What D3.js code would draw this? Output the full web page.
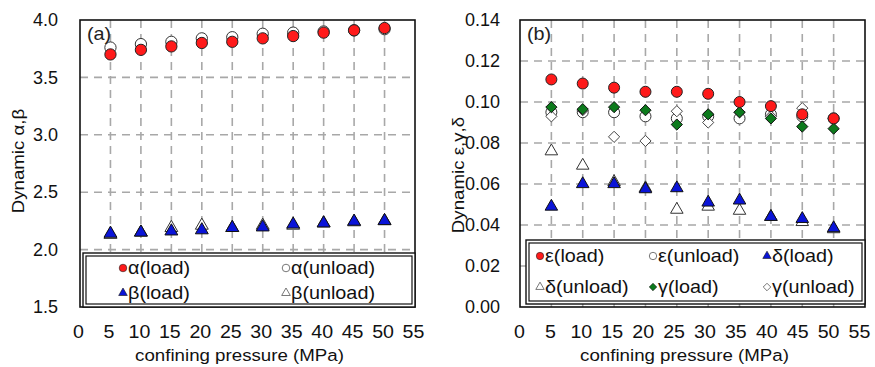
<!DOCTYPE html>
<html>
<head>
<meta charset="utf-8">
<script src="https://cdn.jsdelivr.net/npm/d3@7"></script>
<style>
  body { margin: 0; background: #fff; }
  svg { display: block; font-family: "Liberation Sans", Arial, sans-serif; }
</style>
</head>
<body>
<svg id="chart" width="875" height="367"></svg>
<script>
// confining pressure (MPa)
const pressure = [5, 10, 15, 20, 25, 30, 35, 40, 45, 50];
const xTicks = [0, 5, 10, 15, 20, 25, 30, 35, 40, 45, 50, 55];

// panel (a)
const alphaLoad   = [3.70, 3.74, 3.77, 3.80, 3.81, 3.84, 3.86, 3.89, 3.91, 3.93];
const alphaUnload = [3.76, 3.79, 3.81, 3.84, 3.85, 3.88, 3.89, 3.90, 3.91, 3.92];
const betaLoad    = [2.14, 2.15, 2.16, 2.17, 2.19, 2.195, 2.22, 2.23, 2.245, 2.25];
const betaUnload  = [2.13, 2.15, 2.19, 2.21, 2.19, 2.21, 2.21, 2.23, 2.24, 2.25];
const yTicksA = [1.5, 2.0, 2.5, 3.0, 3.5, 4.0];

// panel (b)
const epsLoad     = [0.111, 0.109, 0.107, 0.105, 0.105, 0.104, 0.100, 0.098, 0.094, 0.092];
const epsUnload   = [0.095, 0.095, 0.095, 0.093, 0.092, 0.093, 0.092, 0.094, 0.093, 0.092];
const deltaLoad   = [0.049, 0.060, 0.060, 0.0575, 0.058, 0.051, 0.052, 0.044, 0.043, 0.0385];
const deltaUnload = [0.076, 0.069, 0.061, 0.058, 0.0475, 0.049, 0.047, 0.044, 0.0415, 0.038];
const gammaLoad   = [0.0975, 0.0965, 0.0975, 0.096, 0.089, 0.094, 0.095, 0.092, 0.088, 0.087];
const gammaUnload = [0.093, 0.096, 0.083, 0.081, 0.0955, 0.090, 0.095, 0.093, 0.097, 0.092];
const yTicksB = [0, 0.02, 0.04, 0.06, 0.08, 0.10, 0.12, 0.14];

const svg = d3.select("#chart");
const FONT = "Liberation Sans, Arial, sans-serif";
const SX = 1.1; // the source text is a bit wider than Liberation Sans

const colors = { red: "#ff1a1a", blue: "#0a14d8", green: "#0c7a1c" };

function symbolFor(kind) {
  if (kind === "circle") return d3.symbolCircle;
  if (kind === "triangle") return d3.symbolTriangle;
  return d3.symbolDiamond2;
}

function wideText(sel, x, y, size, str, anchor) {
  return sel.append("text")
    .attr("transform", "translate(" + x + "," + y + ") scale(" + SX + ",1)")
    .attr("text-anchor", anchor || "start")
    .attr("font-size", size).attr("fill", "#111")
    .text(str);
}

function drawPanel(opt) {
  const x = d3.scaleLinear().domain([0, 55]).range([opt.left, opt.right]);
  const xLab = d3.scaleLinear().domain([0, 55]).range(opt.labelRange);
  const y = d3.scaleLinear().domain(opt.yDomain).range([opt.bottom, opt.top]);
  const g = svg.append("g");

  // grid
  g.selectAll(".vgrid").data(xTicks.filter(d => d > 0 && d < 55)).enter()
    .append("line")
    .attr("x1", d => x(d)).attr("x2", d => x(d))
    .attr("y1", opt.top).attr("y2", opt.bottom)
    .attr("stroke", "#a8a8a8").attr("stroke-width", 1.6)
    .attr("stroke-dasharray", "8,6");
  g.selectAll(".hgrid").data(opt.yTicks.slice(1, -1)).enter()
    .append("line")
    .attr("x1", opt.left).attr("x2", opt.right)
    .attr("y1", d => y(d)).attr("y2", d => y(d))
    .attr("stroke", "#a8a8a8").attr("stroke-width", 1.6)
    .attr("stroke-dasharray", "8,6");

  // axes (labels only)
  const ax = g.append("g")
    .attr("transform", "translate(0," + opt.bottom + ")")
    .call(d3.axisBottom(xLab).tickValues(xTicks).tickSize(0).tickPadding(18));
  ax.select(".domain").remove();
  ax.selectAll("text").attr("font-size", 18.5).attr("fill", "#111")
    .attr("transform", "scale(1.06,1)")
    .style("font-family", FONT);

  const ay = g.append("g")
    .attr("transform", "translate(" + opt.left + ",0)")
    .call(d3.axisLeft(y).tickValues(opt.yTicks).tickFormat(d3.format(opt.fmt))
      .tickSize(0).tickPadding(opt.yPad));
  ay.select(".domain").remove();
  ay.selectAll("text").attr("font-size", 18).attr("fill", "#111")
    .style("font-family", FONT);

  // series
  opt.series.forEach(s => {
    const sym = d3.symbol().type(symbolFor(s.shape)).size(s.size);
    g.selectAll(null).data(pressure.map((p, i) => [p, s.values[i]])).enter()
      .append("path")
      .attr("d", sym)
      .attr("transform", d => "translate(" + x(d[0]) + "," + y(d[1]) + ")")
      .attr("fill", s.fill)
      .attr("stroke", s.stroke)
      .attr("stroke-width", 1);
  });

  // frame
  g.append("rect")
    .attr("x", opt.left).attr("y", opt.top)
    .attr("width", opt.right - opt.left).attr("height", opt.bottom - opt.top)
    .attr("fill", "none").attr("stroke", "#111").attr("stroke-width", 1.6);

  // panel tag
  wideText(g, opt.left + 7, opt.top + 20, 18, opt.tag).attr("fill", "#222");

  // legend box (double border)
  const lg = opt.legend;
  g.append("rect")
    .attr("x", lg.x).attr("y", lg.y).attr("width", lg.w).attr("height", lg.h)
    .attr("fill", "#fff").attr("stroke", "#111").attr("stroke-width", 1.4);
  g.append("rect")
    .attr("x", lg.x + 3).attr("y", lg.y + 3).attr("width", lg.w - 6).attr("height", lg.h - 6)
    .attr("fill", "none").attr("stroke", "#111").attr("stroke-width", 1.2);

  lg.items.forEach((it, i) => {
    const s = opt.series.find(d => d.name === it);
    const col = i % lg.cols, row = Math.floor(i / lg.cols);
    const mx = lg.colX[col], my = lg.rowY[row];
    const sym = d3.symbol().type(symbolFor(s.shape)).size(s.size * 0.45);
    g.append("path").attr("d", sym)
      .attr("transform", "translate(" + mx + "," + my + ")")
      .attr("fill", s.fill).attr("stroke", s.fill === "#fff" ? "#555" : s.stroke)
      .attr("stroke-width", s.fill === "#fff" ? 0.8 : 0.6);
    wideText(g, mx + 5, my + 6, 18, s.name);
  });

  // axis titles
  wideText(g, (opt.left + opt.right) / 2 - 8, 361, 17, "confining pressure (MPa)", "middle");
  g.append("text")
    .attr("transform", "translate(" + opt.titleX + "," + opt.titleY + ") rotate(-90) scale(" + SX + ",1)")
    .attr("text-anchor", "middle").attr("font-size", 17).attr("fill", "#111")
    .text(opt.yTitle);
}

drawPanel({
  left: 80, right: 415, top: 20, bottom: 307, labelRange: [78, 413],
  yDomain: [1.5, 4.0], yTicks: yTicksA, fmt: ".1f", yPad: 22,
  tag: "(a)", yTitle: "Dynamic α,β", titleX: 24, titleY: 161,
  series: [
    { name: "α(unload)", values: alphaUnload, shape: "circle", size: 100, fill: "#fff", stroke: "#333" },
    { name: "β(unload)", values: betaUnload, shape: "triangle", size: 72, fill: "#fff", stroke: "#333" },
    { name: "α(load)", values: alphaLoad, shape: "circle", size: 100, fill: colors.red, stroke: "#222" },
    { name: "β(load)", values: betaLoad, shape: "triangle", size: 72, fill: colors.blue, stroke: "#111" }
  ],
  legend: {
    x: 83, y: 253, w: 332, h: 54, cols: 2,
    colX: [123, 286], rowY: [268, 293],
    items: ["α(load)", "α(unload)", "β(load)", "β(unload)"]
  }
});

drawPanel({
  left: 520, right: 865, top: 20, bottom: 307, labelRange: [519, 859],
  yDomain: [0, 0.14], yTicks: yTicksB, fmt: ".2f", yPad: 20,
  tag: "(b)", yTitle: "Dynamic ε,γ,δ", titleX: 464, titleY: 175,
  series: [
    { name: "ε(unload)", values: epsUnload, shape: "circle", size: 95, fill: "#fff", stroke: "#333" },
    { name: "δ(unload)", values: deltaUnload, shape: "triangle", size: 68, fill: "#fff", stroke: "#333" },
    { name: "γ(unload)", values: gammaUnload, shape: "diamond", size: 80, fill: "#fff", stroke: "#444" },
    { name: "δ(load)", values: deltaLoad, shape: "triangle", size: 68, fill: colors.blue, stroke: "#111" },
    { name: "γ(load)", values: gammaLoad, shape: "diamond", size: 80, fill: colors.green, stroke: "#111" },
    { name: "ε(load)", values: epsLoad, shape: "circle", size: 95, fill: colors.red, stroke: "#222" }
  ],
  legend: {
    x: 526, y: 240, w: 339, h: 64, cols: 3,
    colX: [540, 653, 767], rowY: [256, 287],
    items: ["ε(load)", "ε(unload)", "δ(load)", "δ(unload)", "γ(load)", "γ(unload)"]
  }
});
</script>
</body>
</html>
